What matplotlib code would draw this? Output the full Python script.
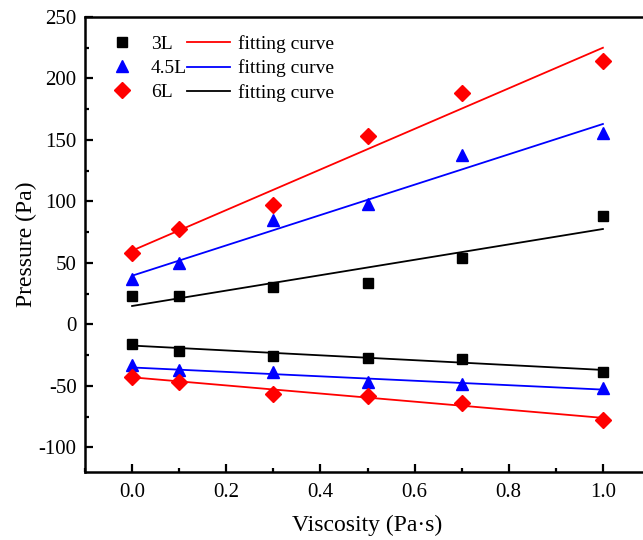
import matplotlib
matplotlib.use("Agg")
import matplotlib.pyplot as plt
from matplotlib.lines import Line2D
from matplotlib.ticker import MultipleLocator

plt.rcParams['font.family'] = ['Liberation Serif', 'DejaVu Serif']
plt.rcParams['axes.unicode_minus'] = False

viscosity = [0.0, 0.1, 0.3, 0.5, 0.7, 1.0]

# upper (positive) branch
p3_up = [23, 23, 30.6, 33.6, 54, 88]
p45_up = [37, 49.7, 85, 98, 138, 156]
p6_up = [58, 77.6, 97, 153.5, 188, 214]
# lower (negative) branch
p3_dn = [-15.8, -22, -25.4, -27.3, -28, -39]
p45_dn = [-33, -37, -39, -47, -48.5, -51.5]
p6_dn = [-42.6, -46.7, -56.3, -58.5, -64, -77.6]

# fitting lines (values at viscosity 0.0 and 1.0)
fit_x = [0.0, 1.0]
fit3_up = [15, 77.6]
fit45_up = [39.6, 163]
fit6_up = [60, 225]
fit3_dn = [-17.2, -37]
fit45_dn = [-35, -53]
fit6_dn = [-43, -76]

fig = plt.figure(figsize=(6.43, 5.40), dpi=100)
ax = fig.add_axes([85/643, 68/540, 565/643, 455/540])

lw = 1.3
ax.plot(fit_x, fit3_up, color='black', lw=lw, zorder=2)
ax.plot(fit_x, fit45_up, color='blue', lw=lw, zorder=2)
ax.plot(fit_x, fit6_up, color='red', lw=lw, zorder=2)
ax.plot(fit_x, fit3_dn, color='black', lw=lw, zorder=2)
ax.plot(fit_x, fit45_dn, color='blue', lw=lw, zorder=2)
ax.plot(fit_x, fit6_dn, color='red', lw=lw, zorder=2)

ms_sq, ms_tri, ms_dia = 7, 8, 8
for ys in (p3_up, p3_dn):
    ax.plot(viscosity, ys, ls='none', marker='s', ms=ms_sq, color='black', zorder=3)
for ys in (p45_up, p45_dn):
    ax.plot(viscosity, ys, ls='none', marker='^', ms=ms_tri, color='blue', zorder=3)
for ys in (p6_up, p6_dn):
    ax.plot(viscosity, ys, ls='none', marker='D', ms=ms_dia, color='red', zorder=3)

ax.set_xlim(-0.1, 1.1)
ax.set_ylim(-120, 250)
ax.xaxis.set_minor_locator(MultipleLocator(0.1))
ax.yaxis.set_major_locator(MultipleLocator(50))
ax.yaxis.set_minor_locator(MultipleLocator(25))
ax.set_xticks([0.0, 0.2, 0.4, 0.6, 0.8, 1.0])
ax.set_xticklabels(['0.0', '0.2', '0.4', '0.6', '0.8', '1.0'])
ax.tick_params(which='both', direction='in', width=1.6, labelsize=15)
ax.tick_params(which='major', length=6, pad=8)
ax.tick_params(which='minor', length=3)
ax.tick_params(axis='y', pad=6)
for s in ax.spines.values():
    s.set_linewidth(1.8)

ax.set_xlabel('Viscosity (Pa·s)', fontsize=17, labelpad=9)
ax.set_ylabel('Pressure (Pa)', fontsize=17, labelpad=1)

handles = [
    Line2D([], [], ls='none', marker='s', ms=ms_sq, color='black'),
    Line2D([], [], ls='none', marker='^', ms=ms_tri, color='blue'),
    Line2D([], [], ls='none', marker='D', ms=ms_dia, color='red'),
    Line2D([], [], color='red', lw=lw),
    Line2D([], [], color='blue', lw=lw),
    Line2D([], [], color='black', lw=lw),
]
labels = ['3L', '4.5L', '6L', 'fitting curve', 'fitting curve', 'fitting curve']
ax.legend(handles, labels, ncol=2, loc='upper left', frameon=False, fontsize=14,
          handlelength=2.2, handletextpad=0.4, columnspacing=0.0, labelspacing=0.33,
          borderaxespad=0.3, bbox_to_anchor=(0.003, 0.99))

fig.savefig('out.png', dpi=100)
